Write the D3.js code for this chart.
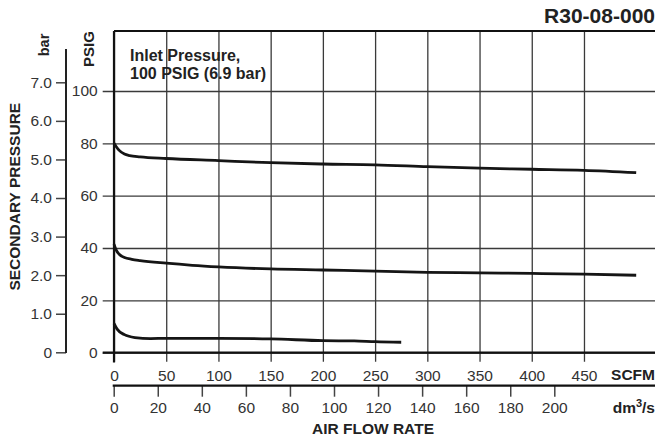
<!DOCTYPE html>
<html>
<head>
<meta charset="utf-8">
<script src="https://cdn.jsdelivr.net/npm/d3@7/dist/d3.min.js"></script>
<style>
  html, body { margin: 0; padding: 0; background: #fff; }
  svg { display: block; font-family: "Liberation Sans", Arial, sans-serif; }
</style>
</head>
<body>
<svg id="chart" width="655" height="438"></svg>
<script>
// ---- data ----
const scfmTicks = [0, 50, 100, 150, 200, 250, 300, 350, 400, 450];
const dmTicks = [0, 20, 40, 60, 80, 100, 120, 140, 160, 180, 200];
const psigTicks = [0, 20, 40, 60, 80, 100];
const barTicks = [0, 1, 2, 3, 4, 5, 6, 7];

const flow80 = [0, 2, 5, 10, 15, 25, 50, 100, 150, 200, 250, 300, 350, 400, 450, 500];
const psig80 = [80.0, 78.8, 77.3, 75.9, 75.3, 74.8, 74.2, 73.4, 72.6, 72.1, 71.8, 71.1, 70.5, 70.1, 69.7, 68.8];

const flow40 = [0, 2, 5, 10, 17, 25, 50, 75, 100, 150, 200, 250, 300, 350, 400, 450, 500];
const psig40 = [41.5, 39.3, 37.6, 36.4, 35.7, 35.2, 34.2, 33.4, 32.8, 32.0, 31.6, 31.2, 30.7, 30.5, 30.3, 30.0, 29.6];

const flow10 = [0, 3, 10, 20, 35, 50, 100, 150, 200, 230, 250, 275];
const psig10 = [11.2, 9.0, 6.9, 5.8, 5.4, 5.5, 5.5, 5.3, 4.6, 4.5, 4.2, 4.0];

const curves = [
  { flow: flow80, psig: psig80 },
  { flow: flow40, psig: psig40 },
  { flow: flow10, psig: psig10 }
];

// ---- layout ----
const svg = d3.select("#chart");
const frameL = 114, frameR = 655, frameT = 31, frameB = 352.7;

const x = d3.scaleLinear().domain([0, 500]).range([114, 636.2]);
const y = d3.scaleLinear().domain([0, 100]).range([352.7, 91]);
const yBar = d3.scaleLinear().domain([0, 7]).range([352.3, 82.3]);
const xDm = d3.scaleLinear().domain([0, 200]).range([113.7, 554.3]);

const gridColor = "#3a3a3a";
const labelColor = "#333";
const FONT = "Liberation Sans, Arial, sans-serif";

// horizontal grid (PSIG axis) - ticks extend left of frame
const gy = svg.append("g")
  .attr("transform", `translate(102.7,0)`)
  .call(d3.axisLeft(y).tickValues(psigTicks).tickSize(-(frameR - 102.7)).tickPadding(5).tickFormat(d3.format("d")));
gy.select(".domain").remove();
gy.selectAll("line").attr("stroke", gridColor).attr("stroke-width", 1.3);
gy.selectAll("text").attr("font-size", "15.5px").attr("fill", labelColor).attr("font-family", FONT);

// vertical grid (SCFM axis) - ticks extend below frame
const gx = svg.append("g")
  .attr("transform", `translate(0,361.7)`)
  .call(d3.axisBottom(x).tickValues(scfmTicks).tickSize(-(361.7 - frameT)).tickPadding(8).tickFormat(d3.format("d")));
gx.select(".domain").remove();
gx.selectAll("line").attr("stroke", gridColor).attr("stroke-width", 1.3);
gx.selectAll("text").attr("font-size", "15.5px").attr("fill", labelColor).attr("font-family", FONT);

// frame
svg.append("line").attr("x1", frameL).attr("x2", frameR).attr("y1", frameT).attr("y2", frameT)
  .attr("stroke", "#111").attr("stroke-width", 2.2);
svg.append("line").attr("x1", 102.7).attr("x2", frameR).attr("y1", frameB).attr("y2", frameB)
  .attr("stroke", "#111").attr("stroke-width", 2.2);
svg.append("line").attr("x1", frameL).attr("x2", frameL).attr("y1", frameT).attr("y2", 362.5)
  .attr("stroke", "#111").attr("stroke-width", 2.2);

// bar axis
const gb = svg.append("g")
  .attr("transform", `translate(66,0)`)
  .call(d3.axisLeft(yBar).tickValues(barTicks).tickSize(10).tickPadding(4)
    .tickFormat(d => d === 0 ? "0" : d3.format(".1f")(d)));
gb.select(".domain").remove();
gb.selectAll("line").attr("stroke", "#444").attr("stroke-width", 1.5);
gb.selectAll("text").attr("font-size", "15.5px").attr("fill", labelColor).attr("font-family", FONT);
svg.append("line").attr("x1", 66).attr("x2", 66).attr("y1", 49).attr("y2", 353)
  .attr("stroke", "#222").attr("stroke-width", 2);

// dm3/s axis
const gd = svg.append("g")
  .attr("transform", `translate(0,385.7)`)
  .call(d3.axisBottom(xDm).tickValues(dmTicks).tickSize(11).tickPadding(5).tickFormat(d3.format("d")));
gd.select(".domain").remove();
gd.selectAll("line").attr("stroke", "#444").attr("stroke-width", 1.5);
gd.selectAll("text").attr("font-size", "15.5px").attr("fill", labelColor).attr("font-family", FONT);
svg.append("line").attr("x1", 112.7).attr("x2", frameR).attr("y1", 385.7).attr("y2", 385.7)
  .attr("stroke", "#111").attr("stroke-width", 2.2);

// curves
const line = d3.line().x(d => x(d[0])).y(d => y(d[1])).curve(d3.curveMonotoneX);
curves.forEach(c => {
  const pts = c.flow.map((f, i) => [f, c.psig[i]]);
  svg.append("path").attr("d", line(pts))
    .attr("fill", "none").attr("stroke", "#151515").attr("stroke-width", 2.8)
    .attr("stroke-linecap", "butt");
});

// texts
const bold = (t) => t.attr("font-weight", "bold").attr("fill", "#222").attr("font-family", FONT);
bold(svg.append("text").attr("x", 655).attr("y", 22.5).attr("text-anchor", "end")
  .attr("font-size", "21px").text("R30-08-000"));
bold(svg.append("text").attr("x", 130).attr("y", 60.7).attr("font-size", "16px").text("Inlet Pressure,"));
bold(svg.append("text").attr("x", 130).attr("y", 79.3).attr("font-size", "16px").text("100 PSIG (6.9 bar)"));
bold(svg.append("text").attr("x", 655).attr("y", 380).attr("text-anchor", "end")
  .attr("font-size", "15.5px").text("SCFM"));
const dm = bold(svg.append("text").attr("x", 655).attr("y", 413).attr("text-anchor", "end")
  .attr("font-size", "15.5px"));
dm.append("tspan").text("dm");
dm.append("tspan").attr("dy", -6).attr("font-size", "11px").text("3");
dm.append("tspan").attr("dy", 6).text("/s");
bold(svg.append("text").attr("x", 373).attr("y", 433.5).attr("text-anchor", "middle")
  .attr("font-size", "15.5px").text("AIR FLOW RATE"));
bold(svg.append("text").attr("transform", "translate(20,196.7) rotate(-90)").attr("text-anchor", "middle")
  .attr("font-size", "15.5px").text("SECONDARY PRESSURE"));
bold(svg.append("text").attr("transform", "translate(48.5,45) rotate(-90)").attr("text-anchor", "middle")
  .attr("font-size", "14.5px").text("bar"));
bold(svg.append("text").attr("transform", "translate(94.3,49) rotate(-90)").attr("text-anchor", "middle")
  .attr("font-size", "15px").text("PSIG"));
</script>
</body>
</html>
